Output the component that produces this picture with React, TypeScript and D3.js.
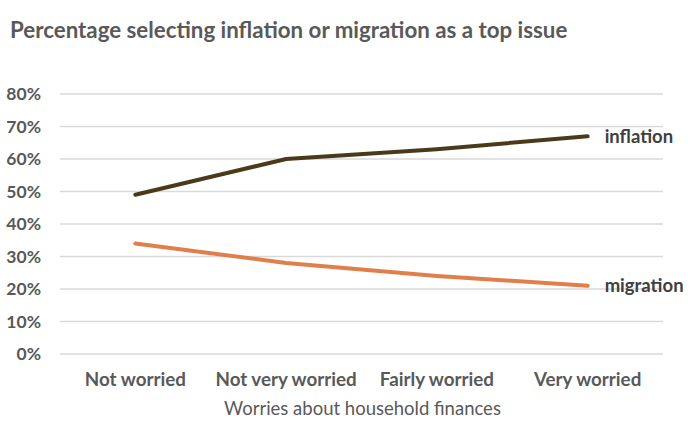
import React from 'react';
import * as d3 from 'd3';

// chart values
const categories = ['Not worried', 'Not very worried', 'Fairly worried', 'Very worried'];
const inflation = [49, 60, 63, 67];
const migration = [34, 28, 24, 21];
const yTicks = [0, 10, 20, 30, 40, 50, 60, 70, 80];

const width = 694;
const height = 424;
const margin = { top: 94, right: 31, bottom: 70, left: 60 };
const font = 'Lato, "Open Sans", sans-serif';
const textColor = '#595959';

const series = [
  { name: 'inflation', values: inflation, color: '#4b3a1a' },
  { name: 'migration', values: migration, color: '#e07f4a' }
];

const App: React.FC = () => {
  const innerWidth = width - margin.left - margin.right;
  const innerHeight = height - margin.top - margin.bottom;

  const xScale = d3.scaleBand<string>()
    .domain(categories)
    .range([0, innerWidth]);

  const yScale = d3.scaleLinear()
    .domain([0, 80])
    .range([innerHeight, 0]);

  const line = d3.line<number>()
    .x((_, i) => (xScale(categories[i]) || 0) + xScale.bandwidth() / 2)
    .y(d => yScale(d));

  const lastX = (xScale(categories[categories.length - 1]) || 0) + xScale.bandwidth() / 2;

  return (
    <svg width={width} height={height} style={{ position: 'absolute', left: 0, top: 0, background: '#fff' }}>
      <text x={10} y={38} fill={textColor} fontFamily={font} fontWeight="bold" fontSize={22.3}>
        Percentage selecting inflation or migration as a top issue
      </text>
      <g transform={`translate(${margin.left}, ${margin.top})`}>
        {/* gridlines and y labels */}
        {yTicks.map(t => (
          <g key={t}>
            <line x1={0} x2={innerWidth} y1={yScale(t)} y2={yScale(t)} stroke="#d9d9d9" strokeWidth={1.3} />
            <text x={-19} y={yScale(t)} dy="0.35em" textAnchor="end" fill={textColor}
              fontFamily={font} fontWeight="bold" fontSize={17.5}>
              {t}%
            </text>
          </g>
        ))}
        {/* category labels */}
        {categories.map(c => (
          <text key={c} x={(xScale(c) || 0) + xScale.bandwidth() / 2} y={innerHeight + 32}
            textAnchor="middle" fill={textColor} fontFamily={font} fontWeight="bold" fontSize={18.8}>
            {c}
          </text>
        ))}
        <text x={innerWidth / 2 + 1} y={innerHeight + 61} textAnchor="middle" fill={textColor}
          fontFamily={font} fontSize={18.5}>
          Worries about household finances
        </text>
        {/* lines */}
        {series.map(s => (
          <g key={s.name}>
            <path d={line(s.values) || ''} fill="none" stroke={s.color} strokeWidth={4} strokeLinecap="round" />
            <text x={lastX + 17} y={yScale(s.values[s.values.length - 1])} dy="0.35em" fill="#404040"
              fontFamily={font} fontWeight="bold" fontSize={18.5}>
              {s.name}
            </text>
          </g>
        ))}
      </g>
    </svg>
  );
};

export default App;
